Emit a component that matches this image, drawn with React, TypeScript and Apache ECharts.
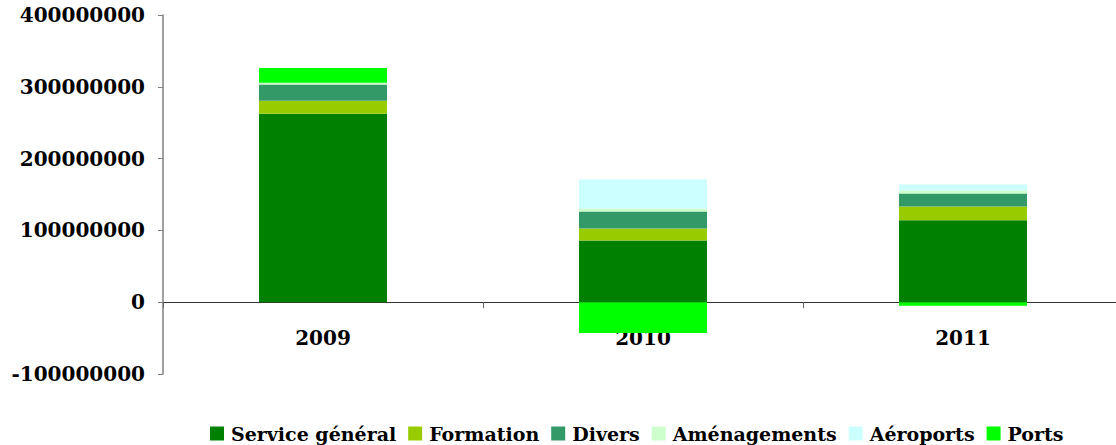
import React, { useEffect, useRef } from "react";
import * as echarts from "echarts";

const categories = ["2009", "2010", "2011"];
const seriesNames = ["Service général", "Formation", "Divers", "Aménagements", "Aéroports", "Ports"];
const serviceGeneral = [262500000, 86000000, 114000000];
const formation = [18000000, 16700000, 19400000];
const divers = [22600000, 23600000, 18000000];
const amenagements = [2400000, 4200000, 4200000];
const aeroports = [0, 40300000, 8300000];
const ports = [20800000, -43000000, -5000000];
const colors = ["#008000", "#99CC00", "#339966", "#CCFFCC", "#CCFFFF", "#00FF00"];
const yMin = -100000000;
const yMax = 400000000;
const yInterval = 100000000;

const FONT = "DejaVu Serif";

export default function App() {
  const ref = useRef<HTMLDivElement>(null);
  useEffect(() => {
    if (!ref.current) return;
    const chart = echarts.init(ref.current, undefined, { renderer: "svg" });
    const data = [serviceGeneral, formation, divers, amenagements, aeroports, ports];
    chart.setOption({
      animation: false,
      backgroundColor: "#ffffff",
      grid: { left: 163, right: 7, top: 15, bottom: 71, containLabel: false },
      legend: {
        left: 210,
        top: 424,
        padding: 0,
        itemWidth: 14,
        itemHeight: 14,
        itemGap: 12,
        icon: "rect",
        data: seriesNames,
        textStyle: {
          fontFamily: FONT,
          fontWeight: "bold",
          fontSize: 19,
          color: "#000",
          padding: [0, 0, 0, 2],
        },
      },
      xAxis: {
        type: "category",
        data: categories,
        axisLine: { onZero: true, lineStyle: { color: "#333", width: 1 } },
        axisTick: { show: true, length: 6, lineStyle: { color: "#666" } },
        axisLabel: {
          margin: -46,
          fontFamily: FONT,
          fontWeight: "bold",
          fontSize: 20,
          color: "#000",
        },
      },
      yAxis: {
        type: "value",
        min: yMin,
        max: yMax,
        interval: yInterval,
        splitLine: { show: false },
        axisLine: { show: true, lineStyle: { color: "#808080", width: 1.5 } },
        axisTick: { show: true, length: 5, lineStyle: { color: "#808080" } },
        axisLabel: {
          margin: 18,
          formatter: (v: number) => String(v),
          fontFamily: FONT,
          fontWeight: "bold",
          fontSize: 20,
          color: "#000",
        },
      },
      series: seriesNames.map((name, i) => ({
        name,
        type: "bar",
        stack: "total",
        barWidth: "40%",
        data: data[i],
        itemStyle: { color: colors[i] },
      })),
    });
    return () => chart.dispose();
  }, []);
  return (
    <div
      style={{ position: "absolute", left: 0, top: 0, width: 1116, height: 445, overflow: "hidden" }}
    >
      <div ref={ref} style={{ width: 1130, height: 445 }} />
    </div>
  );
}
